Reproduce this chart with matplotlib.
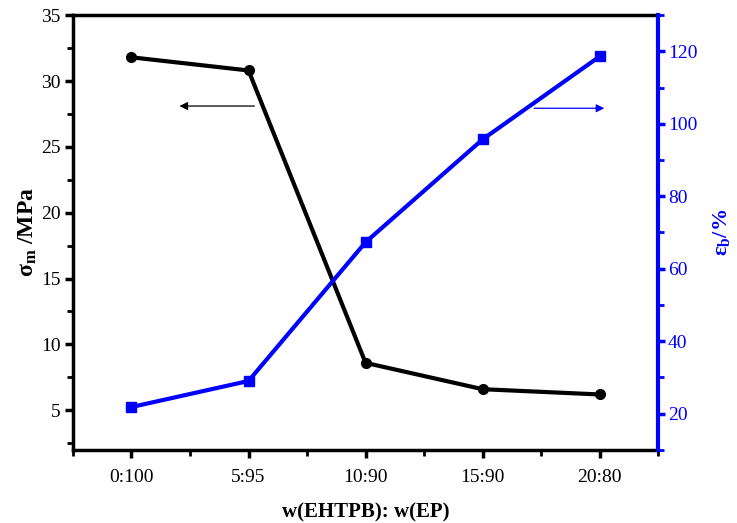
import numpy as np
import matplotlib
matplotlib.use("Agg")
import matplotlib.pyplot as plt
from matplotlib.ticker import MultipleLocator, FixedLocator

# ── Data ───────────────────────────────────────────────────────────────────────
ratios    = ["0:100", "5:95", "10:90", "15:90", "20:80"]
sigma_m   = [31.8, 30.8, 8.6, 6.6, 6.2]       # MPa, left axis
eps_b     = [21.8, 29.0, 67.3, 95.7, 118.6]   # %, right axis

BLUE = "#0000FF"
plt.rcParams["font.family"] = ["Liberation Serif", "DejaVu Serif"]
plt.rcParams["mathtext.fontset"] = "custom"
plt.rcParams["mathtext.rm"] = "Liberation Serif"
plt.rcParams["mathtext.bf"] = "Liberation Serif:bold"

x = np.arange(len(ratios))

fig = plt.figure(figsize=(7.37, 5.23), dpi=100)
ax = fig.add_axes([0.099, 0.140, 0.794, 0.831])
ax2 = ax.twinx()

ax.plot(x, sigma_m, color="black", lw=3, marker="o", ms=7, zorder=3)
ax2.plot(x, eps_b, color=BLUE, lw=3, marker="s", ms=6.5, zorder=3)

ax.set_xlim(-0.5, 4.5)
ax.set_ylim(2, 35)
ax2.set_ylim(10, 130)

# ticks
ax.set_xticks(x)
ax.set_xticklabels(ratios, fontsize=14)
ax.xaxis.set_minor_locator(FixedLocator(np.arange(-0.5, 4.6, 1.0)))
ax.yaxis.set_major_locator(FixedLocator([5, 10, 15, 20, 25, 30, 35]))
ax.yaxis.set_minor_locator(MultipleLocator(2.5))
ax.tick_params(axis="both", which="major", direction="out", length=6, width=2.5,
               labelsize=14, pad=3)
ax.tick_params(axis="both", which="minor", direction="out", length=4, width=2)
ax.tick_params(axis="x", which="major", pad=8)

ax2.yaxis.set_major_locator(FixedLocator([20, 40, 60, 80, 100, 120]))
ax2.yaxis.set_minor_locator(MultipleLocator(10))
ax2.tick_params(axis="y", which="major", direction="out", length=5, width=2.5,
                colors=BLUE, labelsize=14, pad=2)
ax2.tick_params(axis="y", which="minor", direction="out", length=4, width=2,
                colors=BLUE)

for s in ["left", "bottom", "top"]:
    ax.spines[s].set_linewidth(2.5)
ax2.spines["right"].set_color(BLUE)
ax2.spines["right"].set_linewidth(3)
for s in ["left", "bottom", "top"]:
    ax2.spines[s].set_visible(False)

# labels
ax.set_ylabel(r"$\mathbf{\sigma_m}$ /MPa", fontsize=17, fontweight="bold", labelpad=1)
ax2.set_ylabel(r"$\mathbf{\varepsilon_b}$/%", fontsize=16, fontweight="bold",
               color=BLUE, labelpad=10)
ax.set_xlabel("w(EHTPB): w(EP)", fontsize=15, fontweight="bold", labelpad=12)

# direction arrows
ax.annotate("", xy=(0.41, 28.1), xytext=(1.05, 28.1),
            arrowprops=dict(arrowstyle="-|>", color="black", lw=0.9,
                            mutation_scale=12, shrinkA=0, shrinkB=0))
ax2.annotate("", xy=(4.04, 104.3), xytext=(3.44, 104.3),
             arrowprops=dict(arrowstyle="-|>", color=BLUE, lw=0.9,
                             mutation_scale=12, shrinkA=0, shrinkB=0))

fig.savefig("out.png", dpi=100)
